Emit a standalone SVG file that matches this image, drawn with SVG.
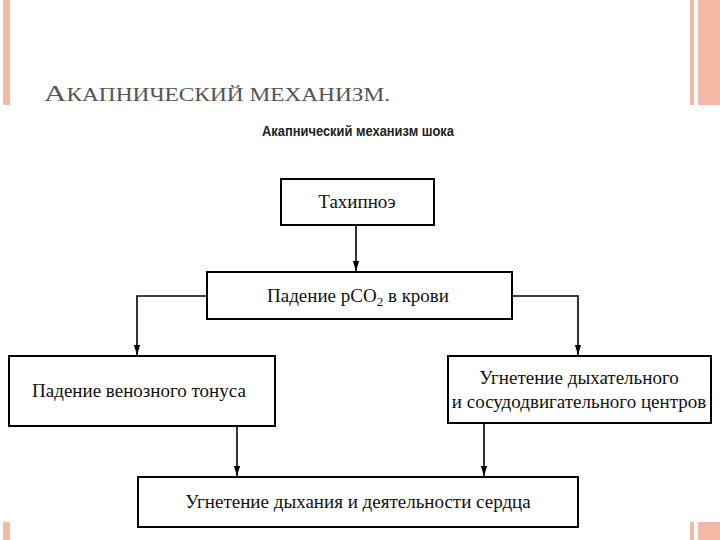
<svg xmlns="http://www.w3.org/2000/svg" width="720" height="540" viewBox="0 0 720 540">
<style>
.b{fill:#fff;stroke:#000;stroke-width:2}
.t{font-family:"Liberation Serif",serif;font-size:19px;fill:#111;text-anchor:middle}
.c{fill:none;stroke:#000;stroke-width:1.6}
</style>
<defs>
<marker id="d" viewBox="0 0 10 16" refX="16" refY="5" markerWidth="16" markerHeight="10" markerUnits="userSpaceOnUse" orient="auto"><path d="M0,0 L16,5 L0,10 Z" fill="#000"/></marker></defs>
<rect width="720" height="540" fill="#fff"/>
<rect x="3" y="0" width="7" height="105" fill="#f4b9a4"/>
<rect x="3" y="522" width="7" height="18" fill="#f4b9a4"/>
<rect x="690" y="0" width="4" height="105" fill="#f4b9a4"/>
<rect x="698" y="0" width="22" height="105" fill="#f4b9a4"/>
<rect x="690" y="522" width="4" height="18" fill="#f4b9a4"/>
<rect x="698" y="522" width="22" height="18" fill="#f4b9a4"/>
<text x="44" y="101" font-family="Liberation Serif,serif" font-size="24" fill="#555" textLength="346" lengthAdjust="spacingAndGlyphs">А<tspan font-size="18">КАПНИЧЕСКИЙ МЕХАНИЗМ.</tspan></text>
<text x="358" y="136" font-family="Liberation Sans,sans-serif" font-size="14" font-weight="bold" fill="#222" text-anchor="middle" textLength="192" lengthAdjust="spacingAndGlyphs">Акапнический механизм шока</text>
<g id="connectors">
<line class="c" x1="356" y1="225" x2="356" y2="271" marker-end="url(#d)"/>
<polyline class="c" points="207,296 137,296 137,355" marker-end="url(#d)"/>
<polyline class="c" points="512,296 578,296 578,355" marker-end="url(#d)"/>
<line class="c" x1="237" y1="426" x2="237" y2="476" marker-end="url(#d)"/>
<line class="c" x1="484" y1="423" x2="484" y2="476" marker-end="url(#d)"/>
</g>
<g id="n1"><rect class="b" x="281" y="179" width="153" height="46" stroke-width="3.5"/><text class="t" x="357" y="208">Тахипноэ</text></g>
<g id="n2"><rect class="b" x="207" y="272" width="305" height="47"/><text class="t" x="358" y="302">Падение pCO<tspan font-size="13" dy="4">2</tspan><tspan dy="-4"> в крови</tspan></text></g>
<g id="n3"><rect class="b" x="9" y="356" width="266" height="70"/><text class="t" x="139" y="397">Падение венозного тонуса</text></g>
<g id="n4"><rect class="b" x="448" y="356" width="263" height="67"/><text class="t" x="579" y="384">Угнетение дыхательного</text><text class="t" x="579" y="408">и сосудодвигательного центров</text></g>
<g id="n5"><rect class="b" x="138" y="477" width="440" height="50"/><text class="t" x="358" y="508">Угнетение дыхания и деятельности сердца</text></g>
</svg>
